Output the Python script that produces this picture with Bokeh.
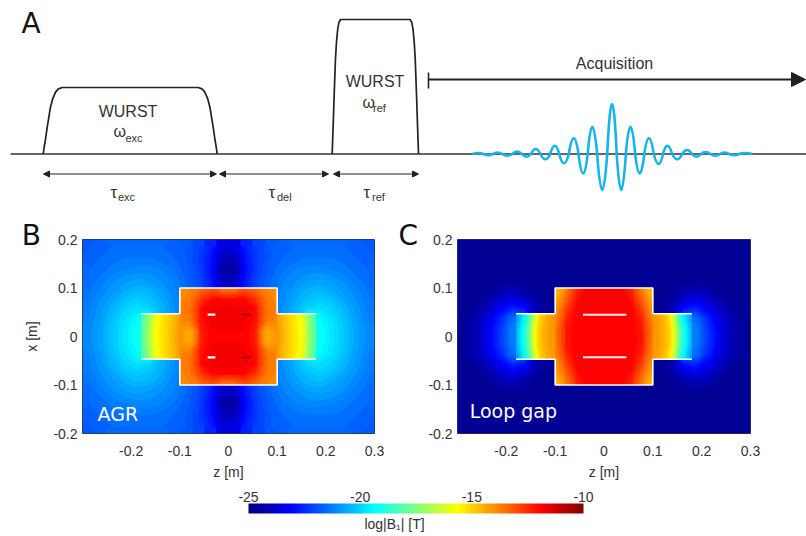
import numpy as np
from bokeh.plotting import figure
from bokeh.models import (Range1d, LinearColorMapper, ColorBar, FixedTicker, Arrow,
                          NormalHead, Label)
from bokeh.layouts import column, row
from bokeh.embed import file_html
from bokeh.resources import INLINE
from bokeh.core.properties import value

# ------------------------------------------------------------------ data
# Panel A: pulse sequence (time axis / amplitude, arbitrary units)
seq_start, seq_end = 10, 806
pulse_start = [42.7, 331.7]
pulse_end = [216.7, 418.0]
pulse_amp = [66.5, 134.5]
pulse_rise = [19.0, 8.5]
edge_t = [0, 0.05, 0.12, 0.21, 0.38, 0.5, 0.65, 0.8, 1.0]
edge_a = [0, 0.10, 0.22, 0.40, 0.70, 0.83, 0.93, 0.98, 1.0]
tau_names = ["exc", "del", "ref"]
tau_start = [43, 219, 333]
tau_end = [216, 328, 418]
acq_start, acq_end = 428, 805
echo_t = [472, 478, 488, 497, 506.7, 516.7, 526, 535, 545, 554.3, 563.3, 573.3, 582.7,
          591.7, 601.7, 611.7, 620.7, 630, 639.3, 648.3, 658.3, 666.7, 676.7, 686.7,
          696, 705, 715, 724, 734, 743, 752]
echo_a = [0, 1, -1.2, 1.5, -1.7, 2.3, -2.7, 5, -5.3, 8.3, -9.3, 15.7, -19.3, 27.3, -36,
          50, -36, 27.3, -19.3, 15.7, -10, 8.3, -5.3, 4, -2.7, 2, -1.7, 1.5, -1.2, 1, 0]

# Panels B/C: log|B1| maps.  Rows listed from top to bottom.
z_ticks = [-0.2, -0.1, 0, 0.1, 0.2, 0.3]
z_tick_labels = ["-0.2", "-0.1", "0", "0.1", "0.2", "0.3"]
x_ticks = [-0.2, -0.1, 0, 0.1, 0.2]
x_tick_labels = ["-0.2", "-0.1", "0", "0.1", "0.2"]
cbar_ticks = [-25, -20, -15, -10]
cbar_tick_labels = ["-25", "-20", "-15", "-10"]

cross_top_z = [-0.18, -0.1, -0.1, 0.1, 0.1, 0.18]
cross_top_x = [0.047, 0.047, 0.1, 0.1, 0.047, 0.047]
cross_bot_z = [-0.18, -0.1, -0.1, 0.1, 0.1, 0.18]
cross_bot_x = [-0.047, -0.047, -0.1, -0.1, -0.047, -0.047]

# sample positions of the map values
outer_z = [-0.2875, -0.2625, -0.2375, -0.2125, -0.1875, -0.1625, -0.1375, -0.1125,
           -0.0875, -0.0625, -0.0375, -0.0125, 0.0125, 0.0375, 0.0625, 0.0875,
           0.1125, 0.1375, 0.1625, 0.1875, 0.2125, 0.2375, 0.2625, 0.2875]
outer_x = [0.1875, 0.1625, 0.1375, 0.1125, 0.0875, 0.0625, 0.0375, 0.0125,
           -0.0125, -0.0375, -0.0625, -0.0875, -0.1125, -0.1375, -0.1625, -0.1875]
center_z = [-0.1, -0.0778, -0.0556, -0.0333, -0.0111, 0.0111, 0.0333, 0.0556, 0.0778, 0.1]
center_x = [0.1, 0.0778, 0.0556, 0.0333, 0.0111, -0.0111, -0.0333, -0.0556, -0.0778, -0.1]
left_arm_z = [-0.18, -0.1686, -0.1571, -0.1457, -0.1343, -0.1229, -0.1114, -0.1]
right_arm_z = [0.1, 0.1114, 0.1229, 0.1343, 0.1457, 0.1571, 0.1686, 0.18]
arm_x = [0.047, 0.0157, -0.0157, -0.047]

agr_outer = [
    [-21.8, -21.7, -21.6, -21.6, -21.6, -21.6, -21.6, -21.7, -21.8, -22.1, -22.6, -23.5, -23.5, -22.6, -22.1, -21.8, -21.7, -21.6, -21.6, -21.6, -21.6, -21.6, -21.7, -21.8],
    [-21.7, -21.6, -21.5, -21.4, -21.4, -21.4, -21.5, -21.6, -21.8, -22.2, -22.8, -24.1, -24.1, -22.8, -22.2, -21.8, -21.6, -21.5, -21.4, -21.4, -21.4, -21.5, -21.6, -21.7],
    [-21.6, -21.5, -21.3, -21.2, -21.1, -21.1, -21.2, -21.4, -21.7, -22.1, -22.9, -24.5, -24.5, -22.9, -22.1, -21.7, -21.4, -21.2, -21.1, -21.1, -21.2, -21.3, -21.5, -21.6],
    [-21.5, -21.3, -21.0, -20.8, -20.7, -20.8, -21.0, -21.2, -21.6, -22.0, -22.7, -24.0, -24.0, -22.7, -22.0, -21.6, -21.2, -21.0, -20.8, -20.7, -20.8, -21.0, -21.3, -21.5],
    [-21.4, -21.1, -20.8, -20.5, -20.3, -20.4, -20.7, -21.1, -21.5, -21.9, -22.6, -23.6, -23.6, -22.6, -21.9, -21.5, -21.1, -20.7, -20.4, -20.3, -20.5, -20.8, -21.1, -21.4],
    [-21.3, -20.9, -20.5, -20.1, -19.9, -20.1, -20.5, -21.0, -21.3, -21.7, -22.4, -23.2, -23.2, -22.4, -21.7, -21.3, -21.0, -20.5, -20.1, -19.9, -20.1, -20.5, -20.9, -21.3],
    [-21.2, -20.8, -20.3, -19.8, -19.4, -19.2, -20.4, -20.9, -21.3, -21.7, -22.4, -23.2, -23.2, -22.4, -21.7, -21.3, -20.9, -20.4, -19.2, -19.4, -19.8, -20.3, -20.8, -21.2],
    [-21.1, -20.7, -20.2, -19.7, -19.2, -19.0, -20.4, -20.9, -21.3, -21.7, -22.4, -23.2, -23.2, -22.4, -21.7, -21.3, -20.9, -20.4, -19.0, -19.2, -19.7, -20.2, -20.7, -21.1],
    [-21.1, -20.7, -20.2, -19.7, -19.2, -19.0, -20.4, -20.9, -21.3, -21.7, -22.4, -23.2, -23.2, -22.4, -21.7, -21.3, -20.9, -20.4, -19.0, -19.2, -19.7, -20.2, -20.7, -21.1],
    [-21.2, -20.8, -20.3, -19.8, -19.4, -19.2, -20.4, -20.9, -21.3, -21.7, -22.4, -23.2, -23.2, -22.4, -21.7, -21.3, -20.9, -20.4, -19.2, -19.4, -19.8, -20.3, -20.8, -21.2],
    [-21.3, -20.9, -20.5, -20.1, -19.9, -20.1, -20.5, -21.0, -21.3, -21.7, -22.4, -23.2, -23.2, -22.4, -21.7, -21.3, -21.0, -20.5, -20.1, -19.9, -20.1, -20.5, -20.9, -21.3],
    [-21.4, -21.1, -20.8, -20.5, -20.3, -20.4, -20.7, -21.1, -21.5, -21.9, -22.6, -23.6, -23.6, -22.6, -21.9, -21.5, -21.1, -20.7, -20.4, -20.3, -20.5, -20.8, -21.1, -21.4],
    [-21.5, -21.3, -21.0, -20.8, -20.7, -20.8, -21.0, -21.2, -21.6, -22.0, -22.7, -24.0, -24.0, -22.7, -22.0, -21.6, -21.2, -21.0, -20.8, -20.7, -20.8, -21.0, -21.3, -21.5],
    [-21.6, -21.5, -21.3, -21.2, -21.1, -21.1, -21.2, -21.4, -21.7, -22.1, -22.9, -24.5, -24.5, -22.9, -22.1, -21.7, -21.4, -21.2, -21.1, -21.1, -21.2, -21.3, -21.5, -21.6],
    [-21.7, -21.6, -21.5, -21.4, -21.4, -21.4, -21.5, -21.6, -21.8, -22.2, -22.8, -24.1, -24.1, -22.8, -22.2, -21.8, -21.6, -21.5, -21.4, -21.4, -21.4, -21.5, -21.6, -21.7],
    [-21.8, -21.7, -21.6, -21.6, -21.6, -21.6, -21.6, -21.7, -21.8, -22.1, -22.6, -23.5, -23.5, -22.6, -22.1, -21.8, -21.7, -21.6, -21.6, -21.6, -21.6, -21.6, -21.7, -21.8],
]
agr_center = [
    [-14.0, -13.8, -13.5, -13.2, -13.8, -13.8, -13.2, -13.5, -13.8, -14.0],
    [-13.9, -13.6, -12.6, -12.0, -11.95, -11.95, -12.0, -12.6, -13.6, -13.9],
    [-13.8, -13.5, -12.0, -11.7, -11.7, -11.7, -11.7, -12.0, -13.5, -13.8],
    [-13.9, -13.6, -12.1, -11.7, -11.7, -11.7, -11.7, -12.1, -13.6, -13.9],
    [-14.1, -14.4, -12.3, -11.8, -11.8, -11.8, -11.8, -12.3, -14.4, -14.1],
    [-14.1, -14.4, -12.3, -11.8, -11.8, -11.8, -11.8, -12.3, -14.4, -14.1],
    [-13.9, -13.6, -12.1, -11.7, -11.7, -11.7, -11.7, -12.1, -13.6, -13.9],
    [-13.8, -13.5, -12.0, -11.7, -11.7, -11.7, -11.7, -12.0, -13.5, -13.8],
    [-13.9, -13.6, -12.6, -12.0, -11.95, -11.95, -12.0, -12.6, -13.6, -13.9],
    [-14.0, -13.8, -13.5, -13.2, -13.8, -13.8, -13.2, -13.5, -13.8, -14.0],
]
agr_left_arm = [
    [-18.5, -17.7, -16.5, -15.7, -15.3, -15.0, -14.6, -14.2],
    [-18.2, -17.4, -16.2, -15.5, -15.2, -14.9, -14.5, -14.1],
    [-18.2, -17.4, -16.2, -15.5, -15.2, -14.9, -14.5, -14.1],
    [-18.5, -17.7, -16.5, -15.7, -15.3, -15.0, -14.6, -14.2],
]
agr_right_arm = [
    [-14.2, -14.6, -15.0, -15.3, -15.7, -16.5, -17.7, -18.5],
    [-14.1, -14.5, -14.9, -15.2, -15.5, -16.2, -17.4, -18.2],
    [-14.1, -14.5, -14.9, -15.2, -15.5, -16.2, -17.4, -18.2],
    [-14.2, -14.6, -15.0, -15.3, -15.7, -16.5, -17.7, -18.5],
]

loop_outer = [
    [-24.6, -24.6, -24.6, -24.6, -24.6, -24.6, -24.6, -24.6, -24.6, -24.6, -24.6, -24.6, -24.6, -24.6, -24.6, -24.6, -24.6, -24.6, -24.6, -24.6, -24.6, -24.6, -24.6, -24.6],
    [-24.6, -24.6, -24.6, -24.6, -24.6, -24.6, -24.6, -24.6, -24.6, -24.6, -24.6, -24.6, -24.6, -24.6, -24.6, -24.6, -24.6, -24.6, -24.6, -24.6, -24.6, -24.6, -24.6, -24.6],
    [-24.6, -24.6, -24.6, -24.6, -24.6, -24.6, -24.6, -24.6, -24.6, -24.6, -24.6, -24.6, -24.6, -24.6, -24.6, -24.6, -24.6, -24.6, -24.6, -24.6, -24.6, -24.6, -24.6, -24.6],
    [-24.6, -24.6, -24.6, -24.6, -24.6, -24.6, -24.6, -24.6, -24.6, -24.6, -24.6, -24.6, -24.6, -24.6, -24.6, -24.6, -24.6, -24.6, -24.6, -24.6, -24.6, -24.6, -24.6, -24.6],
    [-24.6, -24.6, -24.6, -24.2, -24.0, -24.3, -24.6, -24.6, -24.6, -24.6, -24.6, -24.6, -24.6, -24.6, -24.6, -24.6, -24.6, -24.6, -24.3, -24.0, -24.2, -24.6, -24.6, -24.6],
    [-24.6, -24.6, -24.1, -23.4, -22.8, -23.2, -24.3, -24.6, -24.6, -24.6, -24.6, -24.6, -24.6, -24.6, -24.6, -24.6, -24.6, -24.3, -23.2, -22.8, -23.4, -24.1, -24.6, -24.6],
    [-24.6, -24.3, -23.6, -22.6, -21.5, -21.5, -24.6, -24.6, -24.6, -24.6, -24.6, -24.6, -24.6, -24.6, -24.6, -24.6, -24.6, -24.6, -21.5, -21.5, -22.6, -23.6, -24.3, -24.6],
    [-24.6, -24.3, -23.4, -22.3, -21.2, -21.2, -24.6, -24.6, -24.6, -24.6, -24.6, -24.6, -24.6, -24.6, -24.6, -24.6, -24.6, -24.6, -21.2, -21.2, -22.3, -23.4, -24.3, -24.6],
    [-24.6, -24.3, -23.4, -22.3, -21.2, -21.2, -24.6, -24.6, -24.6, -24.6, -24.6, -24.6, -24.6, -24.6, -24.6, -24.6, -24.6, -24.6, -21.2, -21.2, -22.3, -23.4, -24.3, -24.6],
    [-24.6, -24.3, -23.6, -22.6, -21.5, -21.5, -24.6, -24.6, -24.6, -24.6, -24.6, -24.6, -24.6, -24.6, -24.6, -24.6, -24.6, -24.6, -21.5, -21.5, -22.6, -23.6, -24.3, -24.6],
    [-24.6, -24.6, -24.1, -23.4, -22.8, -23.2, -24.3, -24.6, -24.6, -24.6, -24.6, -24.6, -24.6, -24.6, -24.6, -24.6, -24.6, -24.3, -23.2, -22.8, -23.4, -24.1, -24.6, -24.6],
    [-24.6, -24.6, -24.6, -24.2, -24.0, -24.3, -24.6, -24.6, -24.6, -24.6, -24.6, -24.6, -24.6, -24.6, -24.6, -24.6, -24.6, -24.6, -24.3, -24.0, -24.2, -24.6, -24.6, -24.6],
    [-24.6, -24.6, -24.6, -24.6, -24.6, -24.6, -24.6, -24.6, -24.6, -24.6, -24.6, -24.6, -24.6, -24.6, -24.6, -24.6, -24.6, -24.6, -24.6, -24.6, -24.6, -24.6, -24.6, -24.6],
    [-24.6, -24.6, -24.6, -24.6, -24.6, -24.6, -24.6, -24.6, -24.6, -24.6, -24.6, -24.6, -24.6, -24.6, -24.6, -24.6, -24.6, -24.6, -24.6, -24.6, -24.6, -24.6, -24.6, -24.6],
    [-24.6, -24.6, -24.6, -24.6, -24.6, -24.6, -24.6, -24.6, -24.6, -24.6, -24.6, -24.6, -24.6, -24.6, -24.6, -24.6, -24.6, -24.6, -24.6, -24.6, -24.6, -24.6, -24.6, -24.6],
    [-24.6, -24.6, -24.6, -24.6, -24.6, -24.6, -24.6, -24.6, -24.6, -24.6, -24.6, -24.6, -24.6, -24.6, -24.6, -24.6, -24.6, -24.6, -24.6, -24.6, -24.6, -24.6, -24.6, -24.6],
]
loop_center = [
    [-14.9, -13.8, -12.4, -11.8, -11.8, -11.8, -11.8, -12.4, -13.8, -14.9],
    [-14.5, -13.3, -12.1, -11.8, -11.8, -11.8, -11.8, -12.1, -13.3, -14.5],
    [-14.2, -12.8, -11.8, -11.8, -11.8, -11.8, -11.8, -11.8, -12.8, -14.2],
    [-13.9, -12.4, -11.8, -11.8, -11.8, -11.8, -11.8, -11.8, -12.4, -13.9],
    [-13.8, -12.2, -11.8, -11.8, -11.8, -11.8, -11.8, -11.8, -12.2, -13.8],
    [-13.8, -12.2, -11.8, -11.8, -11.8, -11.8, -11.8, -11.8, -12.2, -13.8],
    [-13.9, -12.4, -11.8, -11.8, -11.8, -11.8, -11.8, -11.8, -12.4, -13.9],
    [-14.2, -12.8, -11.8, -11.8, -11.8, -11.8, -11.8, -11.8, -12.8, -14.2],
    [-14.5, -13.3, -12.1, -11.8, -11.8, -11.8, -11.8, -12.1, -13.3, -14.5],
    [-14.9, -13.8, -12.4, -11.8, -11.8, -11.8, -11.8, -12.4, -13.8, -14.9],
]
loop_left_arm = [
    [-21.0, -20.0, -18.9, -17.0, -15.4, -14.7, -14.3, -14.1],
    [-20.6, -19.5, -18.2, -16.3, -15.0, -14.5, -14.2, -14.0],
    [-20.6, -19.5, -18.2, -16.3, -15.0, -14.5, -14.2, -14.0],
    [-21.0, -20.0, -18.9, -17.0, -15.4, -14.7, -14.3, -14.1],
]
loop_right_arm = [
    [-14.1, -14.3, -14.7, -15.4, -17.0, -18.9, -20.0, -21.0],
    [-14.0, -14.2, -14.5, -15.0, -16.3, -18.2, -19.5, -20.6],
    [-14.0, -14.2, -14.5, -15.0, -16.3, -18.2, -19.5, -20.6],
    [-14.1, -14.3, -14.7, -15.4, -17.0, -18.9, -20.0, -21.0],
]

# small conductor strips inside the probes
agr_white_z0, agr_white_z1 = -0.043, -0.027
agr_dark_z0, agr_dark_z1 = 0.029, 0.045
strip_x = [0.045, -0.043]
loop_strip_z0, loop_strip_z1 = -0.043, 0.046

# ------------------------------------------------------------------ styling helpers
def jet(t):
    r = min(max(1.5 - abs(4 * t - 3), 0), 1)
    g = min(max(1.5 - abs(4 * t - 2), 0), 1)
    b = min(max(1.5 - abs(4 * t - 1), 0), 1)
    return "#%02x%02x%02x" % (int(r * 255), int(g * 255), int(b * 255))

LOW, HIGH = cbar_ticks[0], cbar_ticks[-1]
palette = [jet(i / 255) for i in range(256)]
mapper = LinearColorMapper(palette=palette, low=LOW, high=HIGH)
levels = list(np.linspace(LOW, HIGH, 76))
band_colors = [jet(((levels[i] + levels[i + 1]) / 2 - LOW) / (HIGH - LOW))
               for i in range(len(levels) - 1)]

TICK_FONT = "Liberation Sans"
TXT = "#333333"

# ------------------------------------------------------------------ panel A
pA = figure(frame_width=806, frame_height=215, x_range=Range1d(0, 806),
            y_range=Range1d(-61.5, 153.5), min_border=0, x_axis_location=None,
            y_axis_location=None, toolbar_location=None, output_backend="svg",
            outline_line_color=None)
pA.xgrid.visible = False
pA.ygrid.visible = False

pA.line(x=[seq_start, seq_end], y=[0, 0], line_color="#333333", line_width=1.6)

xs, ys = [], []
for s, e, A, r in zip(pulse_start, pulse_end, pulse_amp, pulse_rise):
    lx = [s + r * t for t in edge_t]
    ly = [A * a for a in edge_a]
    rx = [e - r * t for t in reversed(edge_t)]
    ry = [A * a for a in reversed(edge_a)]
    xs.append(lx + rx)
    ys.append(ly + ry)
pA.multi_line(xs, ys, line_color="#222222", line_width=1.7)

arrow_y = -20
for s, e in zip(tau_start, tau_end):
    pA.add_layout(Arrow(x_start=s, y_start=arrow_y, x_end=e, y_end=arrow_y,
                        line_width=1, line_color="#222222",
                        start=NormalHead(size=6, line_color="#222222", fill_color="#222222", line_width=1),
                        end=NormalHead(size=6, line_color="#222222", fill_color="#222222", line_width=1)))

acq_y = 74.5
pA.add_layout(Arrow(x_start=acq_start, y_start=acq_y, x_end=acq_end, y_end=acq_y,
                    line_width=2, line_color="#222222",
                    end=NormalHead(size=14, line_color="#222222", fill_color="#222222")))
pA.segment(x0=[acq_start], y0=[acq_y - 9], x1=[acq_start], y1=[acq_y + 7],
           line_color="#222222", line_width=1.6)

n = len(echo_t)
qx0, qx1, qcx, qcy = [], [], [], []
for i in range(1, n - 1):
    a = echo_t[i - 1] if i == 1 else (echo_t[i - 1] + echo_t[i]) / 2
    b = echo_t[i + 1] if i == n - 2 else (echo_t[i] + echo_t[i + 1]) / 2
    qx0.append(a); qx1.append(b); qcx.append(echo_t[i]); qcy.append(2 * echo_a[i])
pA.quadratic(x0=qx0, y0=[0] * len(qx0), x1=qx1, y1=[0] * len(qx1), cx=qcx, cy=qcy,
             line_color="#12b5ec", line_width=2.6)

def txt(p, x, y, t, size, align="left", color=TXT, font="Liberation Sans"):
    p.text(x=x, y=y, text=t, text_font=value(font), text_font_size=size,
           text_align=align, text_baseline="middle", text_color=color)

txt(pA, [21], [130.5], ["A"], "28px", font="DejaVu Sans", color="#111111")
txt(pA, [127.5, 374.5], [42.5, 72.5], ["WURST", "WURST"], "16px", align="center")
txt(pA, [614], [91], ["Acquisition"], "16px", align="center")
txt(pA, [113, 362], [23, 52], ["ω", "ω"], "16px")
txt(pA, [125, 372.5], [16.5, 46], ["exc", "ref"], "11px")
txt(pA, [110, 268, 363], [-38.5, -38.5, -38.5], ["τ", "τ", "τ"], "17px")
txt(pA, [117.5, 276.5, 371.5], [-43, -43, -43], tau_names, "11px")

# ------------------------------------------------------------------ panels B, C
def draw_field(p, zs, xs_top_down, rows, x0, y0, w, h):
    arr = np.flipud(np.array(rows, dtype=float))
    # flat cells underneath (fills the margins and hides seams), smooth bands on top
    p.image(image=[arr], x=x0, y=y0, dw=w, dh=h, color_mapper=mapper)
    p.contour(list(zs), list(reversed(xs_top_down)), arr, levels,
              fill_color=band_colors, line_color=None)

def field_panel(outer, center, left_arm, right_arm, left_border, right_border,
                frame_w, y_label):
    p = figure(frame_width=frame_w, frame_height=194, x_range=Range1d(-0.3, 0.3),
               y_range=Range1d(-0.2, 0.2), min_border_left=left_border,
               min_border_right=right_border, min_border_top=24, min_border_bottom=50,
               toolbar_location=None, output_backend="svg",
               outline_line_color="#333333", outline_line_width=1)
    p.xgrid.visible = False
    p.ygrid.visible = False
    draw_field(p, outer_z, outer_x, outer, -0.3, -0.2, 0.6, 0.4)
    draw_field(p, center_z, center_x, center, -0.1, -0.1, 0.2, 0.2)
    draw_field(p, left_arm_z, arm_x, left_arm, -0.18, -0.047, 0.08, 0.094)
    draw_field(p, right_arm_z, arm_x, right_arm, 0.1, -0.047, 0.08, 0.094)
    p.multi_line([cross_top_z, cross_bot_z], [cross_top_x, cross_bot_x],
                 line_color="white", line_width=1.6)
    p.xaxis.ticker = FixedTicker(ticks=z_ticks)
    p.xaxis.major_label_overrides = dict(zip(z_ticks, z_tick_labels))
    p.yaxis.ticker = FixedTicker(ticks=x_ticks)
    p.yaxis.major_label_overrides = dict(zip(x_ticks, x_tick_labels))
    for ax in (p.xaxis, p.yaxis):
        ax.major_tick_out = 0
        ax.major_tick_in = 0
        ax.minor_tick_line_color = None
        ax.axis_line_color = None
        ax.major_label_text_font = TICK_FONT
        ax.major_label_text_font_size = "14px"
        ax.major_label_text_color = TXT
        ax.axis_label_text_font = TICK_FONT
        ax.axis_label_text_font_size = "14px"
        ax.axis_label_text_font_style = "normal"
        ax.axis_label_text_color = TXT
    p.xaxis.major_label_standoff = 12
    p.xaxis.axis_label = "z [m]"
    p.xaxis.axis_label_standoff = 5
    p.yaxis.major_label_standoff = 5
    if y_label:
        p.yaxis.axis_label = y_label
        p.yaxis.axis_label_standoff = 10
    return p

pB = field_panel(agr_outer, agr_center, agr_left_arm, agr_right_arm, 82, 21, 292, "x [m]")
pB.multi_line([[agr_white_z0, agr_white_z1]] * 2, [[v, v] for v in strip_x],
              line_color="white", line_width=2.2)
pB.multi_line([[agr_dark_z0, agr_dark_z1]] * 2, [[v, v] for v in strip_x],
              line_color="#8a0000", line_width=2.2, line_alpha=0.8)
txt(pB, [-0.269], [-0.1598], ["AGR"], "19px", color="white", font="DejaVu Sans")
pB.add_layout(Label(x=-0.425, y=0.2082, text="B", text_font="DejaVu Sans",
                    text_font_size="28px", text_color="#111111",
                    text_baseline="middle"), "left")

pC = field_panel(loop_outer, loop_center, loop_left_arm, loop_right_arm, 62, 56, 293, None)
pC.multi_line([[loop_strip_z0, loop_strip_z1]] * 2, [[v, v] for v in strip_x],
              line_color="#f4f4f4", line_width=2)
txt(pC, [-0.275], [-0.1526], ["Loop gap"], "19px", color="white", font="DejaVu Sans")
pC.add_layout(Label(x=-0.421, y=0.2082, text="C", text_font="DejaVu Sans",
                    text_font_size="28px", text_color="#111111",
                    text_baseline="middle"), "left")

# ------------------------------------------------------------------ colour bar
pCB = figure(frame_width=335, frame_height=10, x_range=Range1d(LOW, HIGH),
             y_range=Range1d(0, 1), min_border_left=248, min_border_right=223,
             min_border_top=20, min_border_bottom=23, x_axis_location="above",
             y_axis_location=None, toolbar_location=None, output_backend="svg",
             outline_line_color=None)
pCB.xgrid.visible = False
cbar = ColorBar(color_mapper=mapper, orientation="horizontal", location=(0, 0),
                width=335, height=10, padding=0, margin=0,
                ticker=FixedTicker(ticks=[]), major_tick_line_color=None,
                minor_tick_line_color=None, bar_line_color=None,
                background_fill_alpha=0, border_line_color=None)
pCB.add_layout(cbar, "center")
inner = cbar_ticks[1:-1]
pCB.segment(x0=inner, y0=[0] * len(inner), x1=inner, y1=[1] * len(inner),
            line_color="#333333", line_width=1, line_dash="1 1")
ax = pCB.xaxis
ax.ticker = FixedTicker(ticks=cbar_ticks)
ax.major_label_overrides = dict(zip(cbar_ticks, cbar_tick_labels))
ax.major_tick_out = 0
ax.major_tick_in = 0
ax.minor_tick_line_color = None
ax.axis_line_color = None
ax.major_label_standoff = 2
ax.major_label_text_font = TICK_FONT
ax.major_label_text_font_size = "14px"
ax.major_label_text_color = TXT
pCB.add_layout(Label(x=-18.46, y=-1.0, text="log|B₁| [T]", text_font=TICK_FONT,
                     text_font_size="14px", text_color=TXT, text_align="center",
                     text_baseline="middle"), "below")

layout = column(row(pA), row(pB, pC), row(pCB))
open("out.html", "w").write(file_html(layout, INLINE))
